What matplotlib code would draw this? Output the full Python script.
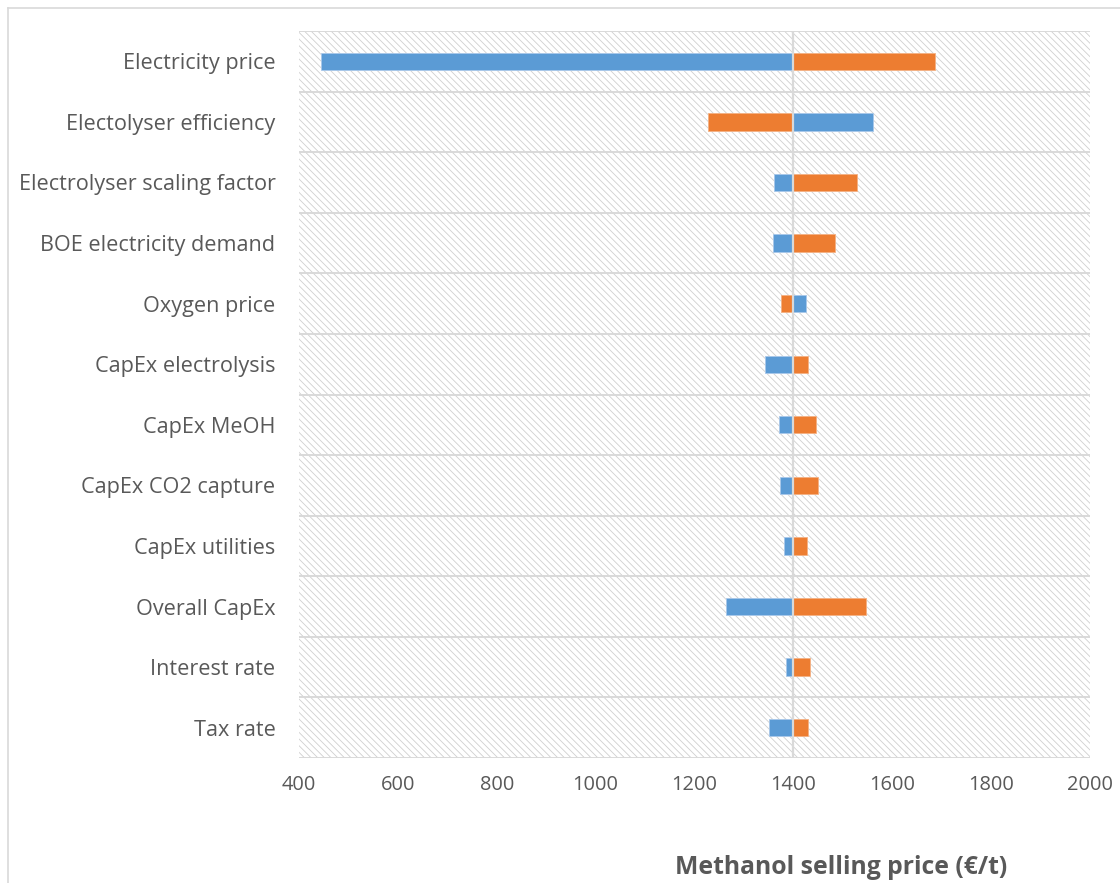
import matplotlib
matplotlib.use("Agg")
import matplotlib.pyplot as plt
from matplotlib.patches import Rectangle
from matplotlib.lines import Line2D

categories = ["Electricity price", "Electolyser efficiency", "Electrolyser scaling factor",
              "BOE electricity demand", "Oxygen price", "CapEx electrolysis", "CapEx MeOH",
              "CapEx CO2 capture", "CapEx utilities", "Overall CapEx", "Interest rate", "Tax rate"]
base_value = 1400
blue_values = [445, 1562, 1361, 1359, 1426, 1343, 1371, 1373, 1382, 1264, 1385, 1350]
orange_values = [1686, 1228, 1529, 1485, 1374, 1430, 1446, 1449, 1428, 1546, 1433, 1430]
x_ticks = [400, 600, 800, 1000, 1200, 1400, 1600, 1800, 2000]

plt.rcParams['font.family'] = ['Open Sans', 'DejaVu Sans']
plt.rcParams['hatch.linewidth'] = 0.6
plt.rcParams['hatch.color'] = '#cfcfcf'

fig = plt.figure(figsize=(11.2, 8.83), dpi=100)
ax = fig.add_axes([299/1120, 1-758/883, (1090-299)/1120, (758-31)/883])

ax.set_xlim(400, 2000)
ax.set_ylim(len(categories)-0.5, -0.5)

# hatched background
ax.add_patch(Rectangle((0, 0), 1, 1, transform=ax.transAxes, facecolor='white',
                       edgecolor='#cfcfcf', hatch='\\' * 5, linewidth=0, zorder=0))

ypos = list(range(len(categories)))
bh = 0.285
ax.barh(ypos, [v - base_value for v in blue_values], left=base_value, height=bh,
        color='#5b9bd5', edgecolor='#a9c8ea', linewidth=0.6, zorder=2)
ax.barh(ypos, [v - base_value for v in orange_values], left=base_value, height=bh,
        color='#ed7d31', edgecolor='#f4b183', linewidth=0.6, zorder=2)

# row separators
for b in range(len(categories)+1):
    ax.axhline(b - 0.5, color='#d9d9d9', linewidth=1.4, zorder=1)
ax.axvline(base_value, color='#d9d9d9', linewidth=1.6, zorder=3)

for s in ax.spines.values():
    s.set_visible(False)

ax.set_yticks(ypos)
ax.set_yticklabels(categories, fontsize=15.6, color='#595959')
ax.set_xticks(x_ticks)
ax.set_xticklabels([str(t) for t in x_ticks], fontsize=14.4, color='#595959')
ax.tick_params(axis='y', length=0, pad=17)
ax.tick_params(axis='x', length=0, pad=12)

fig.text(841/1120, 1-867/883, "Methanol selling price (€/t)", ha='center', va='center',
         fontsize=17.8, fontweight='bold', color='#595959')

# figure border (partially visible)
fig.add_artist(Line2D([7.5/1120, 7.5/1120], [0, 1-7.5/883], transform=fig.transFigure,
                      color='#d9d9d9', linewidth=1.2))
fig.add_artist(Line2D([7.5/1120, 1], [1-7.5/883, 1-7.5/883], transform=fig.transFigure,
                      color='#d9d9d9', linewidth=1.2))

fig.savefig("out.png", dpi=100)
